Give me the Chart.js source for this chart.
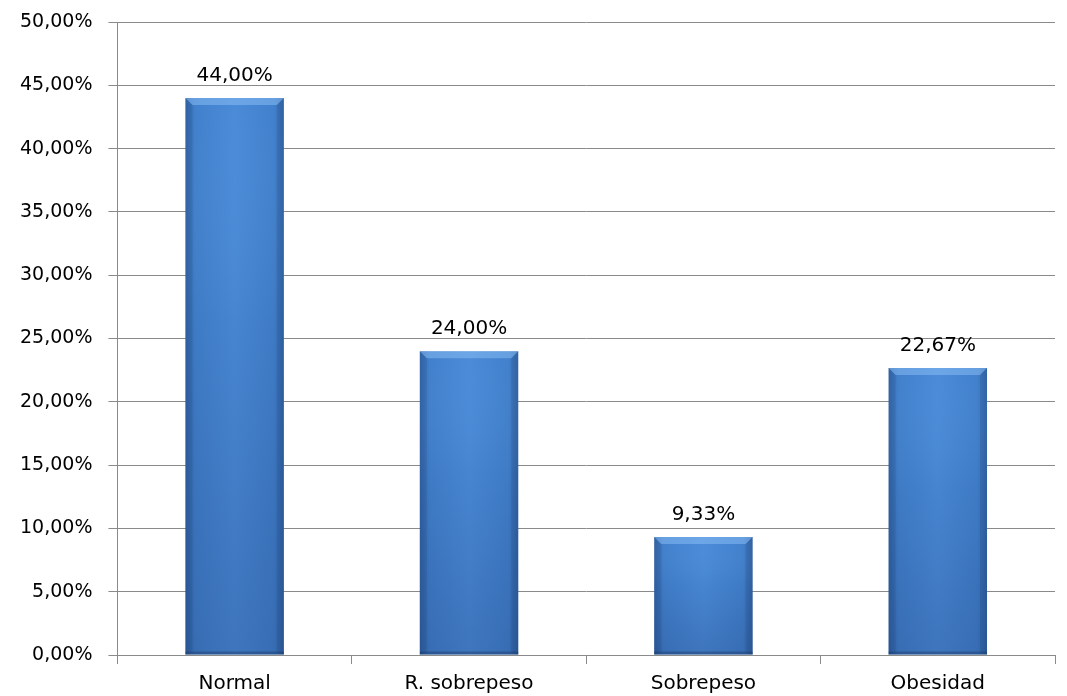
<!DOCTYPE html>
<html>
<head>
<meta charset="utf-8">
<script src="https://cdn.jsdelivr.net/npm/chart.js@4/dist/chart.umd.min.js"></script>
<style>
  html, body { margin: 0; padding: 0; background: #fff; }
  #wrap { width: 1067px; height: 696px; }
</style>
</head>
<body>
<div id="wrap"><canvas id="c"></canvas></div>
<script>
// Distribución por categoría de IMC (%)
const categories = ['Normal', 'R. sobrepeso', 'Sobrepeso', 'Obesidad'];
const percentages = [44.00, 24.00, 9.33, 22.67];
const yTicks = [0, 5, 10, 15, 20, 25, 30, 35, 40, 45, 50];

const fmt = v => v.toFixed(2).replace('.', ',') + '%';
const FONT = '"DejaVu Sans", sans-serif';
const GRID = '#8a8a8a';

// Gives each bar a shaded, bevelled look and writes its value above it
const barStyle = {
  id: 'barStyle',
  beforeDatasetsDraw(chart) {
    const ctx = chart.ctx;
    chart.getDatasetMeta(0).data.forEach(bar => {
      const left = bar.x - bar.width / 2, right = bar.x + bar.width / 2;
      const g = ctx.createLinearGradient(left, 0, right, 0);
      g.addColorStop(0, '#3568ab');
      g.addColorStop(0.1, '#4180cc');
      g.addColorStop(0.5, '#4a8bd8');
      g.addColorStop(0.9, '#4180cc');
      g.addColorStop(1, '#3568ab');
      bar.options.backgroundColor = g;
    });
  },
  afterDatasetsDraw(chart) {
    const ctx = chart.ctx;
    const ds = chart.data.datasets[0];
    chart.getDatasetMeta(0).data.forEach((bar, i) => {
      const left = bar.x - bar.width / 2, right = bar.x + bar.width / 2;
      const top = bar.y, bottom = bar.base;
      ctx.save();
      // gentle darkening toward the base
      const v = ctx.createLinearGradient(0, top, 0, bottom);
      v.addColorStop(0, 'rgba(255,255,255,0)');
      v.addColorStop(0.4, 'rgba(20,40,90,0.06)');
      v.addColorStop(1, 'rgba(20,40,90,0.22)');
      ctx.fillStyle = v;
      ctx.fillRect(left, top, right - left, bottom - top);
      // bevel along the top edge
      const b = 7;
      ctx.beginPath();
      ctx.moveTo(left, top);
      ctx.lineTo(right, top);
      ctx.lineTo(right - b, top + b);
      ctx.lineTo(left + b, top + b);
      ctx.closePath();
      ctx.fillStyle = 'rgba(150,200,250,0.45)';
      ctx.fill();
      // bevel along the sides
      ctx.fillStyle = 'rgba(20,50,100,0.12)';
      ctx.beginPath();
      ctx.moveTo(left, top); ctx.lineTo(left + b, top + b);
      ctx.lineTo(left + b, bottom - 3); ctx.lineTo(left, bottom);
      ctx.closePath();
      ctx.fill();
      ctx.beginPath();
      ctx.moveTo(right, top); ctx.lineTo(right - b, top + b);
      ctx.lineTo(right - b, bottom - 3); ctx.lineTo(right, bottom);
      ctx.closePath();
      ctx.fill();
      // bottom shadow line
      ctx.fillStyle = 'rgba(20,45,90,0.35)';
      ctx.fillRect(left, bottom - 3, right - left, 3);
      // value label
      ctx.fillStyle = '#000';
      ctx.font = '20px ' + FONT;
      ctx.textAlign = 'center';
      ctx.textBaseline = 'alphabetic';
      ctx.fillText(fmt(ds.data[i]), bar.x, top - 17);
      ctx.restore();
    });
  }
};

new Chart(document.getElementById('c'), {
  type: 'bar',
  data: {
    labels: categories,
    datasets: [{
      data: percentages,
      // scriptable so every bar keeps its own options object
      backgroundColor: () => '#4180cc',
      borderWidth: 0,
      categoryPercentage: 1,
      barPercentage: 0.42
    }]
  },
  options: {
    responsive: true,
    maintainAspectRatio: false,
    animation: false,
    layout: { padding: { top: 0, right: 12, left: 4, bottom: 0 } },
    plugins: { legend: { display: false }, tooltip: { enabled: false } },
    scales: {
      x: {
        afterFit: s => { s.height = 41; },
        grid: { display: true, drawOnChartArea: false, drawTicks: true, tickLength: 9, color: GRID, offset: true },
        border: { display: true, color: GRID, width: 1 },
        ticks: { color: '#000', font: { family: FONT, size: 20 }, padding: 8 }
      },
      y: {
        min: 0, max: 50,
        afterBuildTicks: axis => { axis.ticks = yTicks.map(v => ({ value: v })); },
        afterFit: s => { s.paddingTop = 22; s.paddingBottom = 0; },
        grid: { color: GRID, tickLength: 9, drawTicks: true },
        border: { display: true, color: GRID, width: 1 },
        ticks: { color: '#000', font: { family: FONT, size: 19 }, padding: 16, callback: v => fmt(v) }
      }
    }
  },
  plugins: [barStyle]
});
</script>
</body>
</html>
